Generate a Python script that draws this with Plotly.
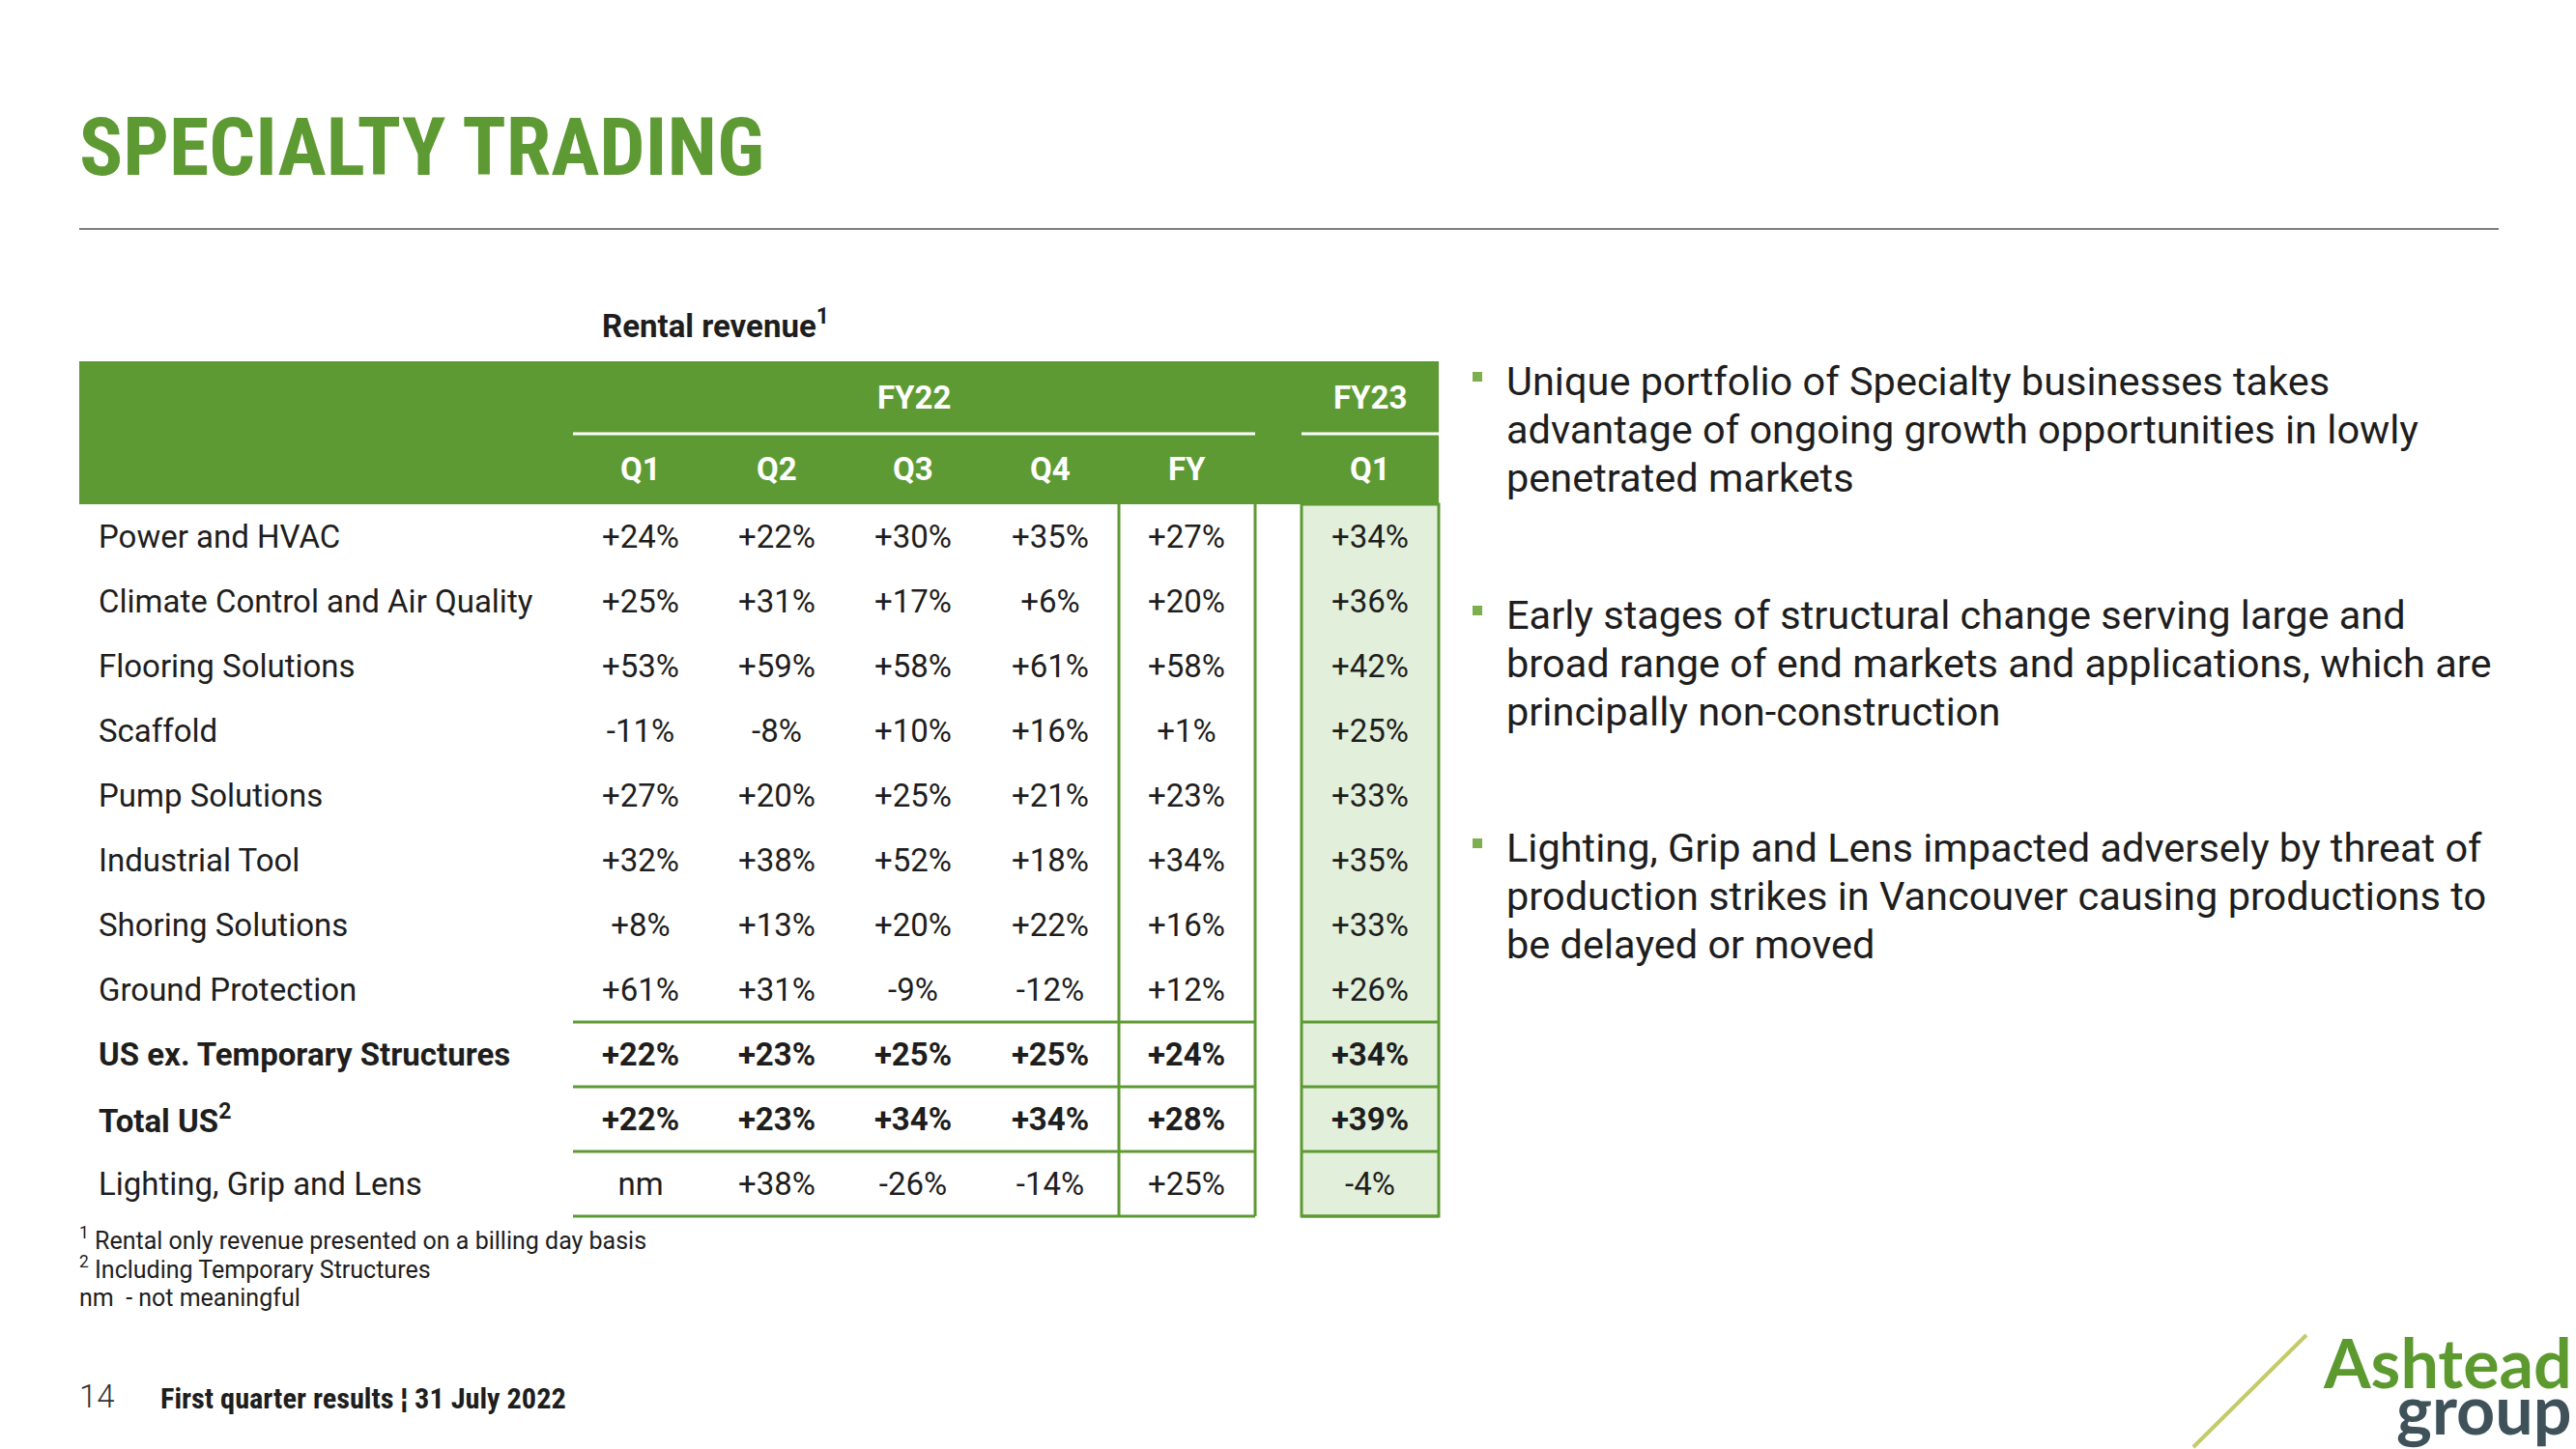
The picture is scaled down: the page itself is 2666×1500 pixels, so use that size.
import plotly.graph_objects as go

# ---------------- data ----------------
row_labels = ["Power and HVAC", "Climate Control and Air Quality", "Flooring Solutions",
              "Scaffold", "Pump Solutions", "Industrial Tool", "Shoring Solutions",
              "Ground Protection", "US ex. Temporary Structures", "Total US",
              "Lighting, Grip and Lens"]
row_bold = [False, False, False, False, False, False, False, False, True, True, False]
row_sup = ["", "", "", "", "", "", "", "", "", "2", ""]

fy22_q1 = [24, 25, 53, -11, 27, 32, 8, 61, 22, 22, None]
fy22_q2 = [22, 31, 59, -8, 20, 38, 13, 31, 23, 23, 38]
fy22_q3 = [30, 17, 58, 10, 25, 52, 20, -9, 25, 34, -26]
fy22_q4 = [35, 6, 61, 16, 21, 18, 22, -12, 25, 34, -14]
fy22_fy = [27, 20, 58, 1, 23, 34, 16, 12, 24, 28, 25]
fy23_q1 = [34, 36, 42, 25, 33, 35, 33, 26, 34, 39, -4]

fy22_cols = ["Q1", "Q2", "Q3", "Q4", "FY"]
fy23_cols = ["Q1"]

bullets = [
    ["Unique portfolio of Specialty businesses takes",
     "advantage of ongoing growth opportunities in lowly",
     "penetrated markets"],
    ["Early stages of structural change serving large and",
     "broad range of end markets and applications, which are",
     "principally non-construction"],
    ["Lighting, Grip and Lens impacted adversely by threat of",
     "production strikes in Vancouver causing productions to",
     "be delayed or moved"],
]
footnotes = ["<sup>1</sup> Rental only revenue presented on a billing day basis",
             "<sup>2</sup> Including Temporary Structures",
             "nm  - not meaningful"]

# ---------------- style / layout ----------------
W, H = 2666, 1500
GREEN = "#5E9A33"
LIGHT = "#E2EFDA"
TXT = "#1E1E1E"
BODY = "Roboto, Arial, sans-serif"
NARROW = "Roboto Condensed, Liberation Sans Narrow, Roboto, Arial, sans-serif"

ROW_TOP = 522
ROW_H = 67
HEAD_TOP = 374
col_x = [663, 804, 945, 1087, 1228]
fy23_x = [1418]
FY22_L, FY22_R = 593, 1299
FYC_L = 1158
FY23_L, FY23_R = 1347, 1489
LABEL_X = 100
FS = 33

fig = go.Figure()
shapes = []
ann = []

def fmt(v):
    return "nm" if v is None else f"{v:+d}%"

def row_y(i):
    return ROW_TOP + (i + 0.5) * ROW_H

n = len(row_labels)
tbl_bottom = ROW_TOP + n * ROW_H

# header band
shapes.append(dict(type="rect", x0=82, x1=FY23_R, y0=HEAD_TOP, y1=ROW_TOP,
                   fillcolor=GREEN, line_width=0, layer="below"))
# white group underlines
for (a, b) in ((FY22_L, FY22_R), (FY23_L, FY23_R)):
    shapes.append(dict(type="line", x0=a, x1=b, y0=449, y1=449,
                       line=dict(color="white", width=3)))
# FY23 column fill
shapes.append(dict(type="rect", x0=FY23_L, x1=FY23_R, y0=ROW_TOP, y1=tbl_bottom,
                   fillcolor=LIGHT, line=dict(color=GREEN, width=3), layer="below"))
# FY column verticals
for xv in (FYC_L, FY22_R):
    shapes.append(dict(type="line", x0=xv, x1=xv, y0=ROW_TOP, y1=tbl_bottom,
                       line=dict(color=GREEN, width=3)))
# horizontal lines above bold rows, last row and bottom
first_line_row = row_bold.index(True)
for k in range(first_line_row, n + 1):
    yv = ROW_TOP + k * ROW_H
    for (a, b) in ((FY22_L, FY22_R), (FY23_L, FY23_R)):
        shapes.append(dict(type="line", x0=a, x1=b, y0=yv, y1=yv,
                           line=dict(color=GREEN, width=3)))

# header texts
ann.append(dict(x=(FY22_L + FY22_R) / 2, y=411, text="<b>FY22</b>", showarrow=False,
                font=dict(family=BODY, size=FS, color="white")))
ann.append(dict(x=fy23_x[0], y=411, text="<b>FY23</b>", showarrow=False,
                font=dict(family=BODY, size=FS, color="white")))
for c, xv in zip(fy22_cols + fy23_cols, col_x + fy23_x):
    ann.append(dict(x=xv, y=485, text=f"<b>{c}</b>", showarrow=False,
                    font=dict(family=BODY, size=FS, color="white")))

# row labels
for i, lab in enumerate(row_labels):
    t = lab + (f"<sup>{row_sup[i]}</sup>" if row_sup[i] else "")
    if row_bold[i]:
        t = f"<b>{t}</b>"
    ann.append(dict(x=LABEL_X, y=row_y(i), text=t, showarrow=False, xanchor="left",
                    font=dict(family=BODY, size=FS, color=TXT)))

# values via scatter text traces
ys = [row_y(i) + 3 for i in range(n)]
for xv, vals in zip(col_x + fy23_x, [fy22_q1, fy22_q2, fy22_q3, fy22_q4, fy22_fy, fy23_q1]):
    txt = [f"<b>{fmt(v)}</b>" if b else fmt(v) for v, b in zip(vals, row_bold)]
    fig.add_trace(go.Scatter(x=[xv] * n, y=ys, mode="text", text=txt,
                             textposition="middle center",
                             textfont=dict(family=BODY, size=FS, color=TXT),
                             hoverinfo="skip", showlegend=False))

# table caption
ann.append(dict(x=621, y=335, text="<b>Rental revenue<sup>1</sup></b>", showarrow=False,
                xanchor="left", font=dict(family=BODY, size=33, color=TXT)))

# title + rule
ann.append(dict(x=80, y=152, text="<b>SPECIALTY TRADING</b>", showarrow=False,
                xanchor="left", font=dict(family=NARROW, size=84, color=GREEN)))
shapes.append(dict(type="line", x0=82, x1=2586, y0=237, y1=237,
                   line=dict(color="#555555", width=1.5)))

# bullets
bullet_first = [394, 636, 877]
LINE_GAP = 50
for lines, y0 in zip(bullets, bullet_first):
    shapes.append(dict(type="rect", x0=1524, x1=1534, y0=y0 - 9, y1=y0 + 1,
                       fillcolor="#7DAF4C", line_width=0))
    for k, t in enumerate(lines):
        ann.append(dict(x=1557, y=y0 + k * LINE_GAP, text=t, showarrow=False,
                        xanchor="left", font=dict(family=BODY, size=41.5, color=TXT)))

# footnotes
for k, t in enumerate(footnotes):
    ann.append(dict(x=80, y=1282 + k * 30.5, text=t, showarrow=False, xanchor="left",
                    font=dict(family=BODY, size=25, color=TXT)))

# footer
ann.append(dict(x=80, y=1445, text="14", showarrow=False, xanchor="left",
                font=dict(family=BODY, size=33, color="#333333", weight=300)))
ann.append(dict(x=164, y=1447, text="<b>First quarter results ¦ 31 July 2022</b>",
                showarrow=False, xanchor="left",
                font=dict(family=NARROW, size=30.3, color=TXT)))

# logo
shapes.append(dict(type="line", x0=2270, x1=2387, y0=1498, y1=1382,
                   line=dict(color="#C3CB6A", width=4)))
ann.append(dict(x=2664, y=1410, text="<b>Ashtead</b>", showarrow=False, xanchor="right",
                font=dict(family="Lato, Roboto, sans-serif", size=70, color="#5C9A2F", weight=900)))
ann.append(dict(x=2664, y=1458, text="<b>group</b>", showarrow=False, xanchor="right",
                font=dict(family="Lato, Roboto, sans-serif", size=70, color="#3F525A", weight=900)))

fig.update_layout(
    width=W, height=H, autosize=False,
    margin=dict(l=0, r=0, t=0, b=0),
    paper_bgcolor="white", plot_bgcolor="white",
    xaxis=dict(range=[0, W], visible=False, fixedrange=True),
    yaxis=dict(range=[H, 0], visible=False, fixedrange=True),
    shapes=shapes, annotations=ann, showlegend=False,
)

fig.write_html("out.html", config={"displayModeBar": False},
               post_script="document.body.style.margin='0px';")
